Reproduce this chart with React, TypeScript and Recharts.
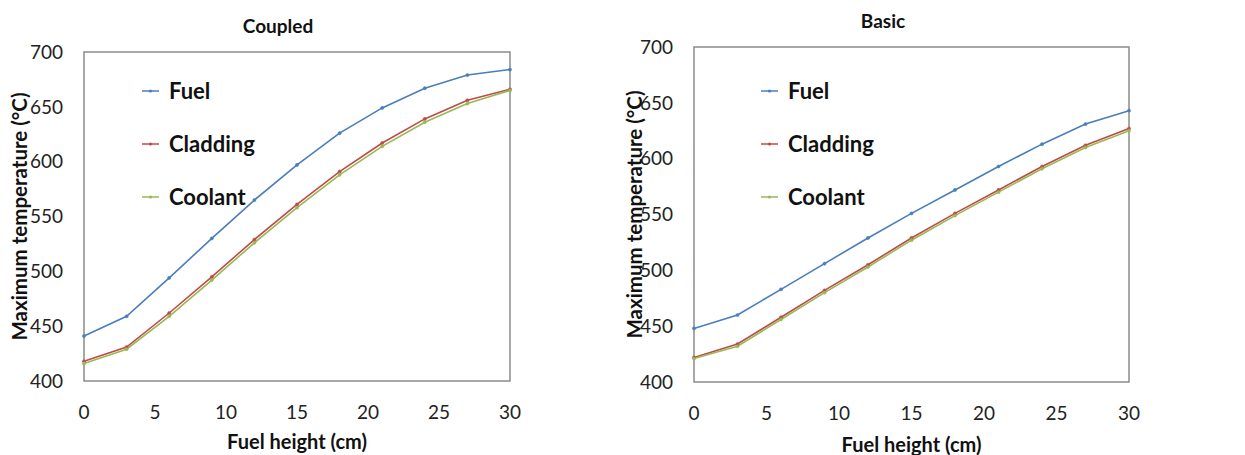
import { LineChart, Line, XAxis, YAxis, ReferenceArea, Legend, Label } from 'recharts'

const heights = [0, 3, 6, 9, 12, 15, 18, 21, 24, 27, 30]
const xTicks = [0, 5, 10, 15, 20, 25, 30]
const yTicks = [400, 450, 500, 550, 600, 650, 700]
const seriesOrder = ['Fuel', 'Cladding', 'Coolant']

// Coupled case
const coupledFuel = [441, 459, 494, 530, 565, 597, 626, 649, 667, 679, 684]
const coupledCladding = [418, 431, 462, 495, 529, 561, 591, 617, 639, 656, 666]
const coupledCoolant = [416, 429, 459, 492, 526, 558, 588, 614, 636, 653, 665]

// Basic case
const basicFuel = [448, 460, 483, 506, 529, 551, 572, 593, 613, 631, 643]
const basicCladding = [422, 434, 458, 482, 505, 529, 551, 572, 593, 612, 627]
const basicCoolant = [421, 432, 456, 480, 503, 527, 549, 570, 591, 610, 625]

const FONT = 'Lato, "Open Sans", sans-serif'
const COLORS = { fuel: '#4a7ebb', cladding: '#be4b48', coolant: '#98b954' }

function buildData(fuel: number[], cladding: number[], coolant: number[]) {
  return heights.map((h, i) => ({ x: h, fuel: fuel[i], cladding: cladding[i], coolant: coolant[i] }))
}

function LegendBox({ payload }: any) {
  const items = [...(payload || [])].sort(
    (a: any, b: any) => seriesOrder.indexOf(a.value) - seriesOrder.indexOf(b.value)
  )
  return (
    <div style={{ fontFamily: FONT, fontWeight: 700, fontSize: 22, color: '#111' }}>
      {items.map((p: any) => (
        <div key={p.value} style={{ display: 'flex', alignItems: 'center', height: 53 }}>
          <svg width={24} height={10} style={{ marginRight: 5 }}>
            <line x1={2} y1={5} x2={19} y2={5} stroke={p.color} strokeWidth={1.5} />
            <circle cx={10.5} cy={5} r={1.6} fill={p.color} />
          </svg>
          {p.value}
        </div>
      ))}
    </div>
  )
}

interface PanelProps {
  data: Array<{ x: number; fuel: number; cladding: number; coolant: number }>
  width: number
  margin: { top: number; right: number; bottom: number; left: number }
  yLabelDx: number
  xLabelDy: number
  legendLeft: number
}

function Panel({ data, width, margin, yLabelDx, xLabelDy, legendLeft }: PanelProps) {
  const dot = (color: string) => ({ r: 1.6, fill: color, stroke: color, strokeWidth: 0.5 })
  return (
    <LineChart width={width} height={455} data={data} margin={margin}>
      <XAxis
        dataKey="x"
        type="number"
        domain={[0, 30]}
        ticks={xTicks}
        height={30}
        axisLine={false}
        tickLine={false}
        tickMargin={19}
        tick={{ fill: '#222', fontSize: 19, fontFamily: FONT }}
      >
        <Label
          value="Fuel height (cm)"
          position="center"
          dy={xLabelDy}
          style={{ fontFamily: FONT, fontWeight: 700, fontSize: 20, fill: '#111' }}
        />
      </XAxis>
      <YAxis
        domain={[400, 700]}
        ticks={yTicks}
        width={60}
        axisLine={false}
        tickLine={false}
        tickMargin={15}
        tick={{ fill: '#222', fontSize: 19, fontFamily: FONT }}
      >
        <Label
          value="Maximum temperature (°C)"
          angle={-90}
          position="center"
          dx={yLabelDx}
          style={{ fontFamily: FONT, fontWeight: 700, fontSize: 20.5, fill: '#111', textAnchor: 'middle' }}
        />
      </YAxis>
      <ReferenceArea x1={0} x2={30} y1={400} y2={700} fill="none" stroke="#8c8c8c" strokeWidth={1.5} ifOverflow="visible" />
      <Legend
        layout="vertical"
        verticalAlign="middle"
        align="center"
        content={<LegendBox />}
        wrapperStyle={{ top: 64, left: legendLeft, width: 200 }}
      />
      <Line type="linear" dataKey="fuel" name="Fuel" stroke={COLORS.fuel} strokeWidth={1.6} dot={dot(COLORS.fuel)} isAnimationActive={false} />
      <Line type="linear" dataKey="cladding" name="Cladding" stroke={COLORS.cladding} strokeWidth={1.6} dot={dot(COLORS.cladding)} isAnimationActive={false} />
      <Line type="linear" dataKey="coolant" name="Coolant" stroke={COLORS.coolant} strokeWidth={1.6} dot={dot(COLORS.coolant)} isAnimationActive={false} />
    </LineChart>
  )
}

export default function App() {
  const titleStyle = {
    position: 'absolute' as const,
    fontFamily: FONT,
    fontWeight: 700,
    fontSize: 19,
    color: '#111',
    transform: 'translate(-50%, -50%)',
    whiteSpace: 'nowrap' as const,
  }
  return (
    <div style={{ position: 'absolute', left: 0, top: 0, width: 1245, height: 455, background: '#fff' }}>
      <div style={{ position: 'absolute', left: 0, top: 0 }}>
        <Panel
          data={buildData(coupledFuel, coupledCladding, coupledCoolant)}
          width={620}
          margin={{ top: 52, right: 110, bottom: 44, left: 24 }}
          yLabelDx={-34}
          xLabelDy={46}
          legendLeft={140}
        />
      </div>
      <div style={{ position: 'absolute', left: 620, top: 0 }}>
        <Panel
          data={buildData(basicFuel, basicCladding, basicCoolant)}
          width={625}
          margin={{ top: 47, right: 116, bottom: 43, left: 14 }}
          yLabelDx={-29}
          xLabelDy={48}
          legendLeft={139}
        />
      </div>
      <div style={{ ...titleStyle, left: 278, top: 25 }}>Coupled</div>
      <div style={{ ...titleStyle, left: 883, top: 20 }}>Basic</div>
    </div>
  )
}
